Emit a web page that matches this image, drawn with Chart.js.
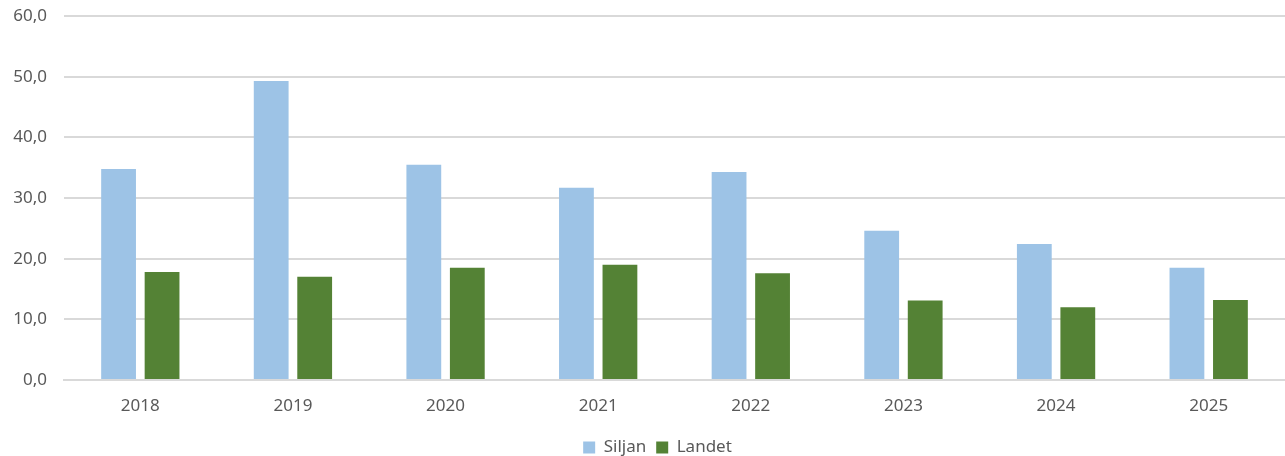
<!DOCTYPE html>
<html>
<head>
<meta charset="utf-8">
<script src="https://cdn.jsdelivr.net/npm/chart.js@4"></script>
<style>
  html, body { margin: 0; padding: 0; background: #fff; }
  #wrap { width: 1285px; height: 456px; }
</style>
</head>
<body>
<div id="wrap"><canvas id="c" width="1285" height="456"></canvas></div>
<script>
const years = ['2018', '2019', '2020', '2021', '2022', '2023', '2024', '2025'];
const siljan = [34.8, 49.3, 35.5, 31.7, 34.3, 24.6, 22.4, 18.5];
const landet = [17.8, 17.0, 18.5, 19.0, 17.6, 13.1, 12.0, 13.2];
const yTicks = [0, 10, 20, 30, 40, 50, 60];

const fontFamily = '"Noto Sans", "Open Sans", sans-serif';
const textColor = '#595959';
const gridColor = '#d9d9d9';

// Let the value-axis labels use the full left margin of the canvas
const widenValueAxis = {
  id: 'widenValueAxis',
  afterLayout(chart) { chart.scales.y.left = 0; }
};

new Chart(document.getElementById('c'), {
  type: 'bar',
  data: {
    labels: years,
    datasets: [
      { label: 'Siljan', data: siljan, backgroundColor: '#9dc3e6' },
      { label: 'Landet', data: landet, backgroundColor: '#548235' }
    ]
  },
  plugins: [widenValueAxis],
  options: {
    responsive: false,
    animation: false,
    devicePixelRatio: 1,
    layout: { padding: { top: 16, right: 0, left: 30, bottom: -10 } },
    datasets: { bar: { categoryPercentage: 0.57, barPercentage: 0.8 } },
    plugins: {
      tooltip: { enabled: false },
      legend: {
        position: 'bottom',
        labels: {
          color: textColor,
          font: { family: fontFamily, size: 17 },
          boxWidth: 12,
          boxHeight: 12,
          padding: 10
        }
      }
    },
    scales: {
      x: {
        grid: { display: false },
        border: { display: true, color: gridColor, width: 2 },
        ticks: {
          color: textColor,
          font: { family: fontFamily, size: 17 },
          padding: 8
        },
        afterFit(scale) { scale.height = 49; }
      },
      y: {
        min: 0,
        max: 60,
        afterBuildTicks(scale) { scale.ticks = yTicks.map(v => ({ value: v })); },
        grid: { color: gridColor, lineWidth: 2, drawTicks: false },
        border: { display: false },
        ticks: {
          color: textColor,
          font: { family: fontFamily, size: 17 },
          padding: 17,
          callback: v => v.toFixed(1).replace('.', ',')
        },
        afterFit(scale) {
          scale.width = 34;
          scale.paddingTop = 0;
        }
      }
    }
  }
});
</script>
</body>
</html>
